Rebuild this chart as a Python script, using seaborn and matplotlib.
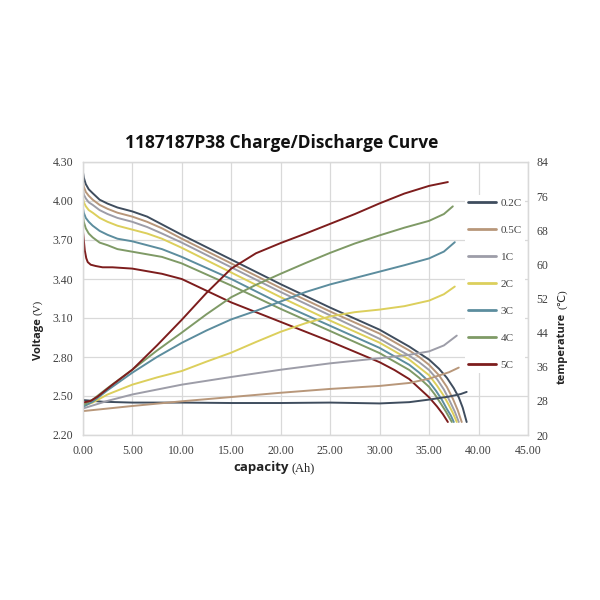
import numpy as np
import pandas as pd
import matplotlib
matplotlib.use("Agg")
import matplotlib.pyplot as plt
import seaborn as sns

# 1187187P38 charge/discharge curve: voltage (left) and temperature (right) vs capacity

rates = ["0.2C", "0.5C", "1C", "2C", "3C", "4C", "5C"]
colors = ["#3f4d5e", "#b8977a", "#9d9da8", "#dccf5c", "#5c8d9e", "#7f9a66", "#7d1d1d"]

# discharge voltage curves (capacity Ah, voltage V)
cap_02 = [0, 0.1, 0.3, 0.6, 1, 1.7, 2.5, 3.5, 5, 6.5, 8, 10, 15, 20, 25, 30, 33, 34, 35, 36, 36.8, 37.5, 38, 38.4, 38.8]
volt_02 = [4.23, 4.18, 4.13, 4.09, 4.06, 4.01, 3.98, 3.95, 3.92, 3.88, 3.82, 3.74, 3.55, 3.36, 3.18, 3.01,
           2.88, 2.83, 2.78, 2.71, 2.64, 2.56, 2.49, 2.41, 2.30]
cap_05 = [0, 0.1, 0.3, 0.6, 1, 1.7, 2.5, 3.5, 5, 6.5, 8, 10, 15, 20, 25, 30, 33, 34, 35, 36, 36.8, 37.4, 37.9, 38.3]
volt_05 = [4.15, 4.11, 4.07, 4.04, 4.01, 3.97, 3.94, 3.91, 3.88, 3.84, 3.79, 3.71, 3.52, 3.33, 3.15, 2.98,
           2.85, 2.80, 2.74, 2.66, 2.57, 2.48, 2.39, 2.30]
cap_1 = [0, 0.1, 0.3, 0.6, 1, 1.7, 2.5, 3.5, 5, 6.5, 8, 10, 15, 20, 25, 30, 33, 34, 35, 35.8, 36.5, 37.1, 37.6, 38.0]
volt_1 = [4.09, 4.05, 4.02, 3.99, 3.97, 3.93, 3.90, 3.87, 3.84, 3.80, 3.75, 3.68, 3.49, 3.30, 3.12, 2.94,
          2.81, 2.76, 2.70, 2.63, 2.55, 2.46, 2.38, 2.30]
cap_2 = [0, 0.1, 0.3, 0.6, 1, 1.7, 2.5, 3.5, 5, 6.5, 8, 10, 15, 20, 25, 30, 33, 34, 35, 35.8, 36.5, 37.0, 37.4, 37.8]
volt_2 = [4.03, 3.99, 3.96, 3.93, 3.91, 3.87, 3.84, 3.81, 3.78, 3.75, 3.71, 3.64, 3.45, 3.26, 3.08, 2.91,
          2.78, 2.72, 2.66, 2.58, 2.50, 2.43, 2.37, 2.30]
cap_3 = [0, 0.1, 0.3, 0.6, 1, 1.7, 2.5, 3.5, 5, 6.5, 8, 10, 15, 20, 25, 30, 33, 34, 35, 35.7, 36.3, 36.8, 37.2, 37.5]
volt_3 = [3.95, 3.91, 3.87, 3.84, 3.81, 3.77, 3.74, 3.71, 3.69, 3.66, 3.63, 3.57, 3.40, 3.21, 3.04, 2.87,
          2.74, 2.68, 2.61, 2.54, 2.47, 2.40, 2.35, 2.30]
cap_4 = [0, 0.1, 0.3, 0.6, 1, 1.7, 2.5, 3.5, 5, 6.5, 8, 10, 15, 20, 25, 30, 33, 34, 35, 35.6, 36.2, 36.7, 37.0, 37.3]
volt_4 = [3.89, 3.84, 3.79, 3.75, 3.72, 3.68, 3.66, 3.63, 3.61, 3.59, 3.57, 3.52, 3.35, 3.17, 3.00, 2.83,
          2.70, 2.64, 2.57, 2.51, 2.44, 2.38, 2.34, 2.30]
cap_5 = [0, 0.1, 0.2, 0.35, 0.5, 0.8, 1.3, 2, 3, 5, 6.5, 8, 10, 15, 20, 25, 30, 31.5, 33, 34, 35, 35.8, 36.4, 36.9]
volt_5 = [3.78, 3.70, 3.62, 3.56, 3.53, 3.51, 3.50, 3.49, 3.49, 3.48, 3.46, 3.44, 3.40, 3.22, 3.07, 2.92,
          2.76, 2.70, 2.63, 2.56, 2.49, 2.42, 2.36, 2.30]

# temperature curves (capacity Ah, temperature C)
tcap_02 = [0, 2, 5, 10, 15, 20, 25, 30, 33, 35, 37, 38.2, 38.8]
temp_02 = [28.2, 27.8, 27.6, 27.6, 27.5, 27.5, 27.6, 27.4, 27.7, 28.3, 29.0, 29.6, 30.1]
tcap_05 = [0, 5, 10, 15, 20, 25, 30, 33, 35, 37, 38]
temp_05 = [25.6, 26.8, 27.9, 28.9, 29.9, 30.8, 31.5, 32.2, 33.2, 34.7, 35.8]
tcap_1 = [0, 2.5, 5, 10, 15, 20, 25, 30, 33, 35, 36.5, 37.8]
temp_1 = [26.2, 28.0, 29.5, 31.8, 33.6, 35.3, 36.8, 38.0, 38.8, 39.6, 41.0, 43.3]
tcap_2 = [0, 1, 2.5, 5, 7.5, 10, 12.5, 15, 17.5, 20, 22.5, 25, 27.5, 30, 32.5, 35, 36.5, 37.6]
temp_2 = [26.8, 27.6, 29.5, 31.8, 33.5, 35.0, 37.2, 39.3, 41.8, 44.2, 46.2, 47.8, 48.8, 49.4, 50.2, 51.5, 53.0, 54.8]
tcap_3 = [0, 1, 2.5, 5, 7.5, 10, 12.5, 15, 17.5, 20, 22.5, 25, 27.5, 30, 32.5, 35, 36.5, 37.6]
temp_3 = [26.6, 27.8, 30.5, 34.6, 38.3, 41.6, 44.5, 47.1, 49.1, 51.3, 53.5, 55.3, 56.8, 58.3, 59.8, 61.4, 63.0, 65.2]
tcap_4 = [0, 1, 2.5, 5, 7.5, 10, 12.5, 15, 17.5, 20, 22.5, 25, 27.5, 30, 32.5, 35, 36.5, 37.4]
temp_4 = [27.0, 28.3, 31.0, 35.3, 39.8, 44.0, 48.3, 52.3, 55.2, 57.8, 60.3, 62.7, 64.9, 66.8, 68.6, 70.2, 71.8, 73.6]
tcap_5 = [0, 0.8, 1.5, 3, 5, 7.5, 10, 12.5, 15, 17.5, 20, 22.5, 25, 27.5, 30, 32.5, 35, 36.9]
temp_5 = [27.6, 28.0, 29.0, 31.8, 35.3, 41.0, 47.0, 53.3, 59.0, 62.6, 65.0, 67.2, 69.5, 71.8, 74.3, 76.6, 78.4, 79.3]

x_ticks = [0, 5, 10, 15, 20, 25, 30, 35, 40, 45]
v_ticks = [2.20, 2.50, 2.80, 3.10, 3.40, 3.70, 4.00, 4.30]
t_ticks = [20, 28, 36, 44, 52, 60, 68, 76, 84]

volt_sets = [(cap_02, volt_02), (cap_05, volt_05), (cap_1, volt_1), (cap_2, volt_2),
             (cap_3, volt_3), (cap_4, volt_4), (cap_5, volt_5)]
temp_sets = [(tcap_02, temp_02), (tcap_05, temp_05), (tcap_1, temp_1), (tcap_2, temp_2),
             (tcap_3, temp_3), (tcap_4, temp_4), (tcap_5, temp_5)]

dv = pd.concat([pd.DataFrame({"capacity": c, "value": v, "rate": r})
                for r, (c, v) in zip(rates, volt_sets)], ignore_index=True)
dt = pd.concat([pd.DataFrame({"capacity": c, "value": v, "rate": r})
                for r, (c, v) in zip(rates, temp_sets)], ignore_index=True)

sns.set_style("white")

pal = dict(zip(rates, colors))
serif = ["Liberation Serif", "DejaVu Sans"]
tick_col = "#404040"
lab_col = "#222222"

fig = plt.figure(figsize=(6, 6), dpi=100)
ax = fig.add_axes([0.138, 0.275, 0.742, 0.455])
ax2 = ax.twinx()

sns.lineplot(data=dv, x="capacity", y="value", hue="rate", palette=pal, sort=False,
             estimator=None, linewidth=1.4, ax=ax)
sns.lineplot(data=dt, x="capacity", y="value", hue="rate", palette=pal, sort=False,
             estimator=None, linewidth=1.4, ax=ax2, legend=False)

ax.set_xlim(0, 45)
ax.set_ylim(2.2, 4.3)
ax2.set_ylim(20, 84)
ax.set_xticks(x_ticks)
ax.set_xticklabels([f"{t:.2f}" for t in x_ticks], fontfamily=serif, fontsize=8.5, color=tick_col)
ax.set_yticks(v_ticks)
ax.set_yticklabels([f"{t:.2f}" for t in v_ticks], fontfamily=serif, fontsize=8.5, color=tick_col)
ax2.set_yticks(t_ticks)
ax2.set_yticklabels([str(t) for t in t_ticks], fontfamily=serif, fontsize=8.5, color=tick_col)
ax.tick_params(axis="both", length=0, pad=7)
ax2.tick_params(axis="y", length=0, pad=6)
ax.set_xlabel("")
ax.set_ylabel("")
ax2.set_ylabel("")

ax.grid(True, color="#d9d9d9", linewidth=0.9)
ax.set_axisbelow(True)
for a in (ax, ax2):
    for s in a.spines.values():
        s.set_color("#d9d9d9")
        s.set_linewidth(0.9)

# axis titles: bold word + serif unit, placed in figure pixels / 600
fig.text(289 / 600, 1 - 468 / 600, "capacity", ha="right", va="center", fontsize=9.5,
         fontweight="bold", fontfamily="Open Sans", color=lab_col)
fig.text(292 / 600, 1 - 468 / 600, "(Ah)", ha="left", va="center", fontsize=9,
         fontfamily=serif, color=lab_col)
fig.text(38 / 600, 1 - 318 / 600, "Voltage", ha="center", va="top", rotation=90, fontsize=8,
         fontweight="bold", fontfamily="Open Sans", color=lab_col)
fig.text(38 / 600, 1 - 315 / 600, "(V)", ha="center", va="bottom", rotation=90, fontsize=8,
         fontfamily=serif, color=lab_col)
fig.text(562 / 600, 1 - 313 / 600, "temperature", ha="center", va="top", rotation=90, fontsize=8,
         fontweight="bold", fontfamily="Open Sans", color=lab_col)
fig.text(562 / 600, 1 - 309 / 600, "(℃)", ha="center", va="bottom", rotation=90, fontsize=8,
         fontfamily=serif, color=lab_col)

fig.text(0.47, 0.762, "1187187P38 Charge/Discharge Curve", ha="center", va="center",
         fontsize=12.5, fontweight="bold", fontfamily="Open Sans", color="#111111")

handles, labels = ax.get_legend_handles_labels()
leg = ax.legend(handles, labels, loc="upper left", bbox_to_anchor=(0.846, 0.9),
                frameon=True, facecolor="white", edgecolor="none", framealpha=1,
                handlelength=2.5, labelspacing=1.55, borderpad=0.3, handletextpad=0.4,
                prop={"family": serif, "size": 8})
for line in leg.get_lines():
    line.set_linewidth(2)
for t in leg.get_texts():
    t.set_color(tick_col)

fig.savefig("out.png", dpi=100, facecolor="white")
